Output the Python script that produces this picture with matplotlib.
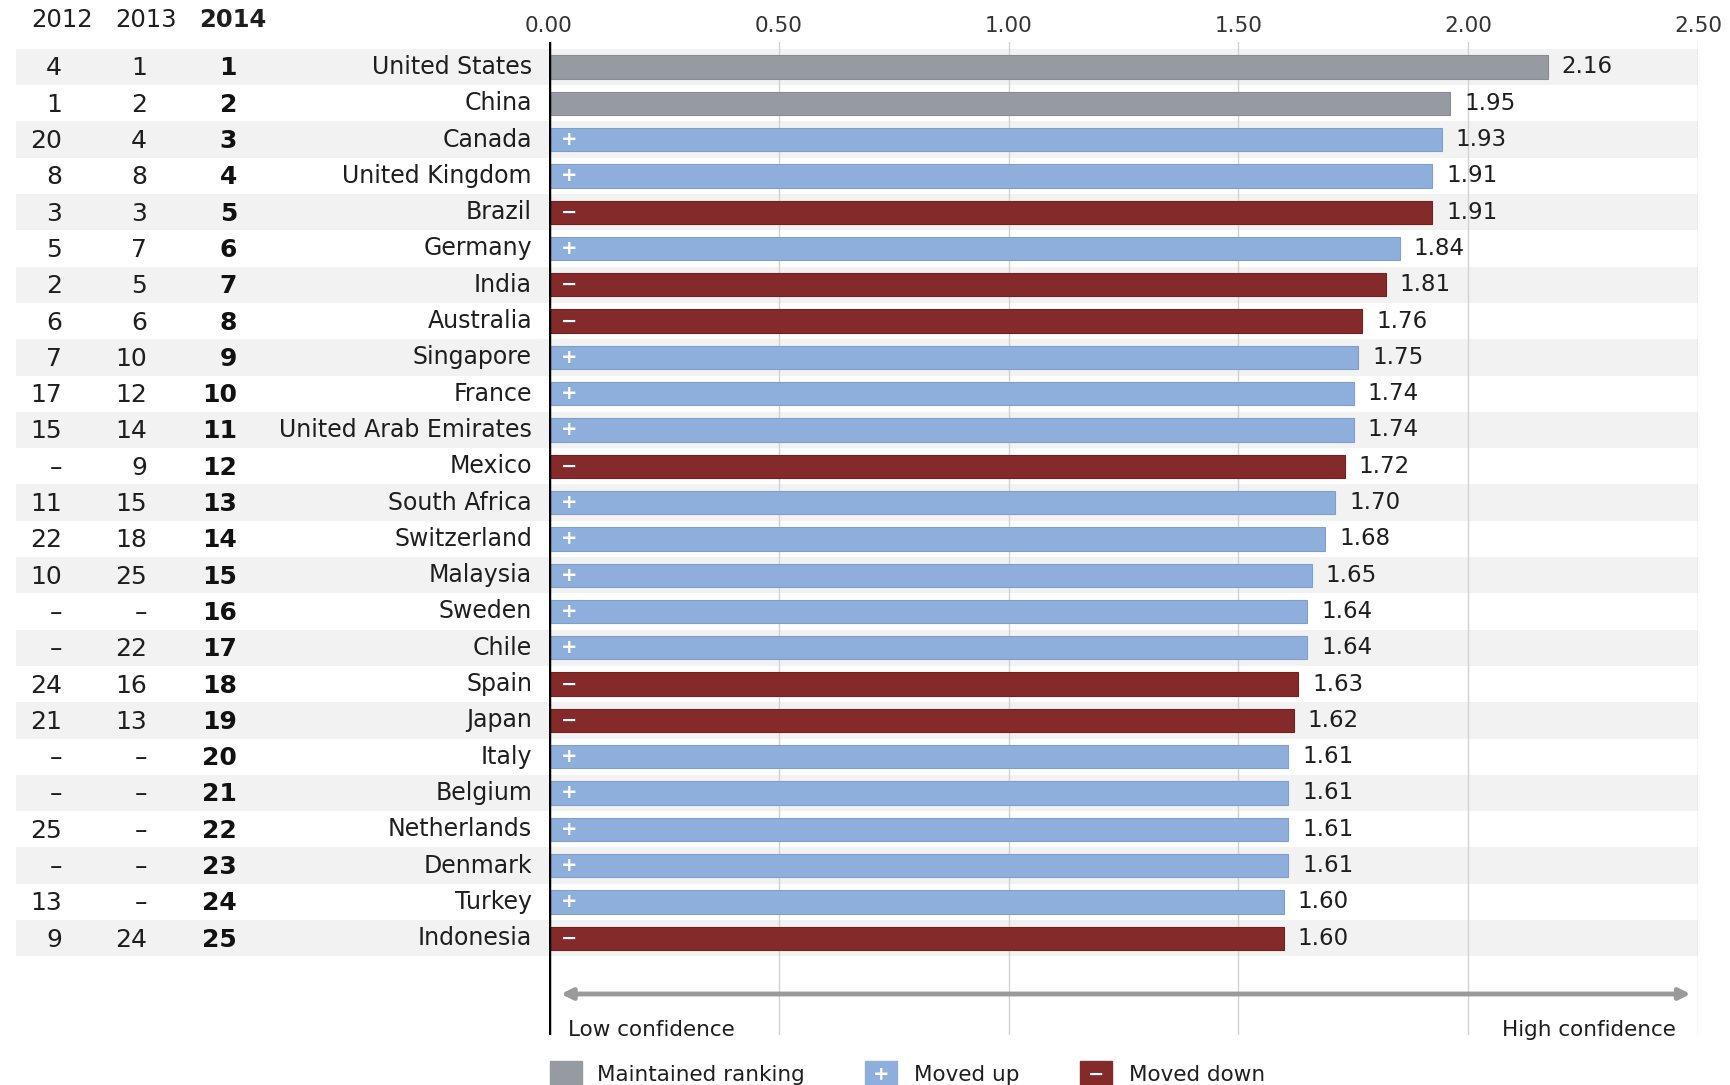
import matplotlib
matplotlib.use("Agg")
import matplotlib.pyplot as plt
from matplotlib.transforms import blended_transform_factory
from matplotlib.patches import Rectangle

plt.rcParams['font.family'] = ['DejaVu Sans']

countries = ["United States", "China", "Canada", "United Kingdom", "Brazil", "Germany",
             "India", "Australia", "Singapore", "France", "United Arab Emirates", "Mexico",
             "South Africa", "Switzerland", "Malaysia", "Sweden", "Chile", "Spain", "Japan",
             "Italy", "Belgium", "Netherlands", "Denmark", "Turkey", "Indonesia"]
# bar lengths
scores = [2.173, 1.961, 1.942, 1.922, 1.922, 1.851, 1.821, 1.770, 1.761, 1.751, 1.751, 1.731,
          1.711, 1.689, 1.660, 1.650, 1.650, 1.630, 1.620, 1.609, 1.609, 1.609, 1.609,
          1.599, 1.599]
# printed value labels
score_labels = ["2.16", "1.95", "1.93", "1.91", "1.91", "1.84", "1.81", "1.76", "1.75",
                "1.74", "1.74", "1.72", "1.70", "1.68", "1.65", "1.64", "1.64", "1.63",
                "1.62", "1.61", "1.61", "1.61", "1.61", "1.60", "1.60"]
rank_2012 = ["4", "1", "20", "8", "3", "5", "2", "6", "7", "17", "15", "–", "11", "22",
             "10", "–", "–", "24", "21", "–", "–", "25", "–", "13", "9"]
rank_2013 = ["1", "2", "4", "8", "3", "7", "5", "6", "10", "12", "14", "9", "15", "18",
             "25", "–", "22", "16", "13", "–", "–", "–", "–", "–", "24"]
rank_2014 = [str(i) for i in range(1, 26)]
status = ["same", "same", "up", "up", "down", "up", "down", "down", "up", "up", "up", "down",
          "up", "up", "up", "up", "up", "down", "down", "up", "up", "up", "up", "up", "down"]
year_headers = ["2012", "2013", "2014"]
xticks = [0.0, 0.5, 1.0, 1.5, 2.0, 2.5]
legend_labels = ["Maintained ranking", "Moved up", "Moved down"]

colors = {"same": "#959ba1", "up": "#8eafdb", "down": "#842a2b"}
edges = {"same": "#868c92", "up": "#7f9fcb", "down": "#74201f"}
marks = {"same": "", "up": "+", "down": "\u2212"}
TXT = "#1e1e1e"

W, H = 1730, 1085
fig = plt.figure(figsize=(W / 100, H / 100), dpi=100)
ax_left, ax_right, ax_top, ax_bot = 549, 1698, 42, 1035
ax = fig.add_axes([ax_left / W, 1 - ax_bot / H, (ax_right - ax_left) / W, (ax_bot - ax_top) / H])

row0, step = 67, 36.3
ax.set_ylim((ax_bot - row0) / step, (ax_top - row0) / step)
ax.set_xlim(0, 2.5)

n = len(countries)
band_x0 = (16 - ax_left) / (ax_right - ax_left)
for i in range(0, n, 2):
    r = ax.axhspan(i - 0.5, i + 0.5, xmin=band_x0, xmax=1.0, color="#f2f2f2", zorder=0, lw=0)
    r.set_clip_on(False)

for t in xticks[1:]:
    ax.axvline(t, color="#d2d2d2", lw=1, zorder=1)
ax.axvline(0, color="black", lw=2.5, zorder=4)

ax.barh(range(n), scores, height=0.64, color=[colors[s] for s in status],
        edgecolor=[edges[s] for s in status], linewidth=0.8, zorder=2)

for i, (v, lab, s) in enumerate(zip(scores, score_labels, status)):
    ax.annotate(lab, xy=(v, i), xytext=(14, 0), textcoords="offset pixels",
                ha="left", va="center", fontsize=16.5, color=TXT, zorder=5)
    if marks[s]:
        ax.annotate(marks[s], xy=(0, i), xytext=(20, 0), textcoords="offset pixels",
                    ha="center", va="center", fontsize=14, fontweight="bold",
                    color="white", zorder=5)

trans = blended_transform_factory(fig.transFigure, ax.transData)
for i in range(n):
    ax.text(532 / W, i, countries[i], transform=trans, ha="right", va="center",
            fontsize=17, color=TXT)
    ax.text(62 / W, i + 0.04, rank_2012[i], transform=trans, ha="right", va="center",
            fontsize=18, color=TXT)
    ax.text(147 / W, i + 0.04, rank_2013[i], transform=trans, ha="right", va="center",
            fontsize=18, color=TXT)
    ax.text(237 / W, i + 0.04, rank_2014[i], transform=trans, ha="right", va="center",
            fontsize=18, color="#111111", fontweight="bold")

for x, lab, wt in zip([62, 146, 233], year_headers, ["normal", "normal", "bold"]):
    fig.text(x / W, 1 - 20 / H, lab, ha="center", va="center", fontsize=17.5,
             fontweight=wt, color=TXT)

ax.xaxis.tick_top()
ax.set_xticks(xticks)
ax.set_xticklabels([f"{t:.2f}" for t in xticks], fontsize=15.5, color="#333333")
ax.tick_params(axis="x", length=0, pad=4)
ax.set_yticks([])
for sp in ax.spines.values():
    sp.set_visible(False)

arrow_y = (994 - row0) / step
ax.annotate("", xy=(2.49, arrow_y), xytext=(0.02, arrow_y),
            arrowprops=dict(arrowstyle="<|-|>", color="#9a9a9a", lw=3.5, mutation_scale=16),
            zorder=3)
lab_y = (1030 - row0) / step
ax.text(0.042, lab_y, "Low confidence", ha="left", va="center", fontsize=15.5, color=TXT)
ax.text(2.452, lab_y, "High confidence", ha="right", va="center", fontsize=15.5, color=TXT)

leg_items = [(550, 597, "same"), (865, 914, "up"), (1080, 1129, "down")]
for (sx, tx, key), lab in zip(leg_items, legend_labels):
    fig.patches.append(Rectangle((sx / W, 0), 32 / W, 24 / H, transform=fig.transFigure,
                                 color=colors[key], figure=fig))
    if marks[key]:
        fig.text((sx + 16) / W, 11 / H, marks[key], ha="center", va="center", fontsize=14,
                 fontweight="bold", color="white")
    fig.text(tx / W, 10 / H, lab, ha="left", va="center", fontsize=15.5, color=TXT)

fig.savefig("out.png", dpi=100)
